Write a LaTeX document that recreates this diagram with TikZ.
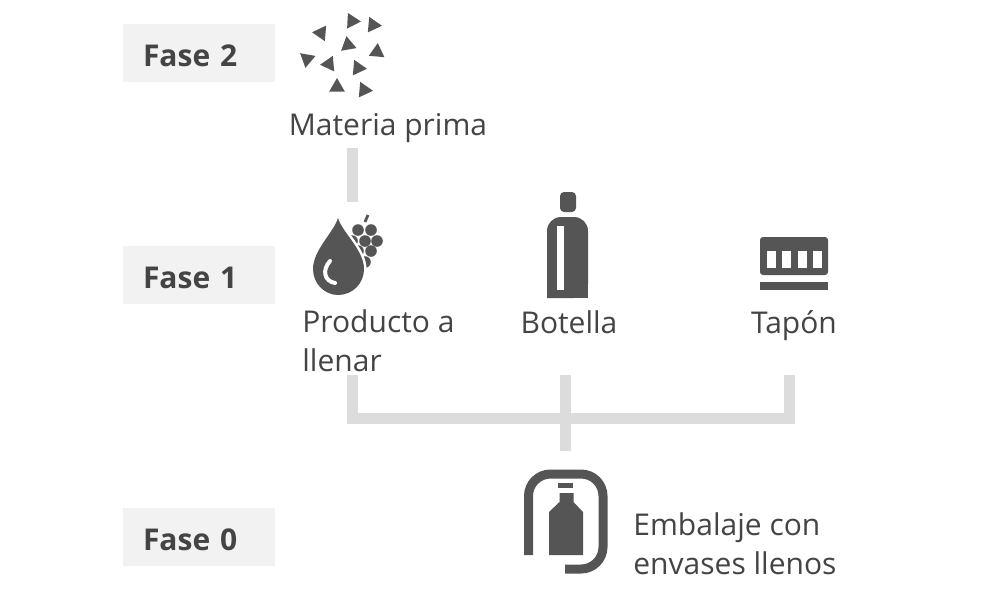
\documentclass[tikz,border=0pt]{standalone}
\usepackage{fontspec}
\setmainfont{Open Sans}
\definecolor{oscuro}{HTML}{555555}
\definecolor{texto}{HTML}{444444}
\definecolor{gris}{HTML}{DCDCDC}
\definecolor{fondo}{HTML}{F2F2F2}
\tikzset{
	fase/.style={fill=fondo,text=texto,font=\fontsize{15}{18}\selectfont\bfseries,text width=76pt,text height=13pt,text depth=0pt,minimum height=29pt,inner sep=0pt,execute at begin node=\hspace*{10pt}},
	etiqueta/.style={text=texto,font=\fontsize{15}{19.6}\selectfont,inner sep=0pt,align=left},
	icono/.style={inner sep=0pt,minimum width=#1,minimum height=2pt},
	conector/.style={draw=gris,line width=5.5pt}
}
\begin{document}
\begin{tikzpicture}[x=0.5pt,y=-0.5pt]
	\useasboundingbox (0,0) rectangle (1000,600);

	% fases
	\node[fase] (f2) at (199,53) {Fase 2};
	\node[fase] (f1) at (199,275) {Fase 1};
	\node[fase] (f0) at (199,537) {Fase 0};

	% textos
	\node[etiqueta,anchor=base] (materia) at (388,135) {Materia prima};
	\node[etiqueta,anchor=north west] (producto) at (302,309) {Producto a\\llenar};
	\node[etiqueta,anchor=base] (botella) at (569,333) {Botella};
	\node[etiqueta,anchor=base] (tapon) at (794,333) {Tapón};
	\node[etiqueta,anchor=north west] (embalaje) at (633,512) {Embalaje con\\envases llenos};

	% anclas de los iconos
	\node[icono=20pt] (gota) at (352,204) {};
	\node[icono=20pt] (caja) at (565,453) {};

	\coordinate (pA) at (352,375);
	\coordinate (pB) at (565,375);
	\coordinate (pC) at (789,375);
	\coordinate (union) at (565,418);
	\coordinate (pM) at (352,148);

	\draw[conector] (pM) -- (gota);
	\draw[conector] (pA) -- (pA|-union) -- (pC|-union) -- (pC);
	\draw[conector] (pB) -- (caja);

	% triangulos
	\foreach \x/\y/\a in {352/21/-3,373/25/-5,321/33/175,348/45/100,377/52/85,307/59/-100,329/64/185,358/68/-5,337/87/90,364/90/-5}
		\fill[oscuro,shift={(\x,\y)},rotate=\a] (0:9) -- (120:9) -- (240:9) -- cycle;

	% uvas
	\draw[oscuro,line width=1.4pt] (365,222) -- (368,215);
	\foreach \x/\y in {358/230,371/230,352/241,365/241,377/241,358/251,371/251,365/262}
		\fill[oscuro] (\x,\y) circle (5.8);

	% gota
	\fill[oscuro,preaction={draw=white,line width=2.5pt}] (338,218) .. controls (334,232) and (313,250) .. (313,269)
		.. controls (313,284) and (325,295) .. (338,295)
		.. controls (352,295) and (364,284) .. (364,269)
		.. controls (364,250) and (342,232) .. (338,218) -- cycle;
	\draw[white,line width=2pt,line cap=round] (330,261) .. controls (322,270) and (324,281) .. (335,283);

	% botella
	\fill[oscuro,rounded corners=2pt] (560,212) -- (560,192) -- (576,192) -- (576,212) -- cycle;
	\fill[oscuro,rounded corners=7pt] (547,298) -- (547,217) -- (588,217) -- (588,298) [sharp corners] -- cycle;
	\fill[oscuro] (547,280) rectangle (588,298);
	\fill[white] (557,226) rectangle (564,290);

	% tapon
	\fill[oscuro,rounded corners=1.5pt] (760,275) -- (760,237) -- (828,237) -- (828,275) -- cycle;
	\foreach \x in {767,782,798,813}
		\fill[white] (\x,251) rectangle ++(8.5,17);
	\fill[oscuro] (760,282) rectangle (828,290);

	% embalaje
	\draw[oscuro,line width=4.5pt,rounded corners=11pt] (528.5,555) -- (528.5,474) -- (603,474) -- (603,569) -- (565,569);
	\fill[oscuro] (558,483) rectangle (573,488);
	\fill[oscuro] (559.5,493) -- (573.5,493) -- (573.5,502) -- (583,512) -- (583,555) -- (549,555) -- (549,512) -- (559.5,502) -- cycle;
\end{tikzpicture}
\end{document}
